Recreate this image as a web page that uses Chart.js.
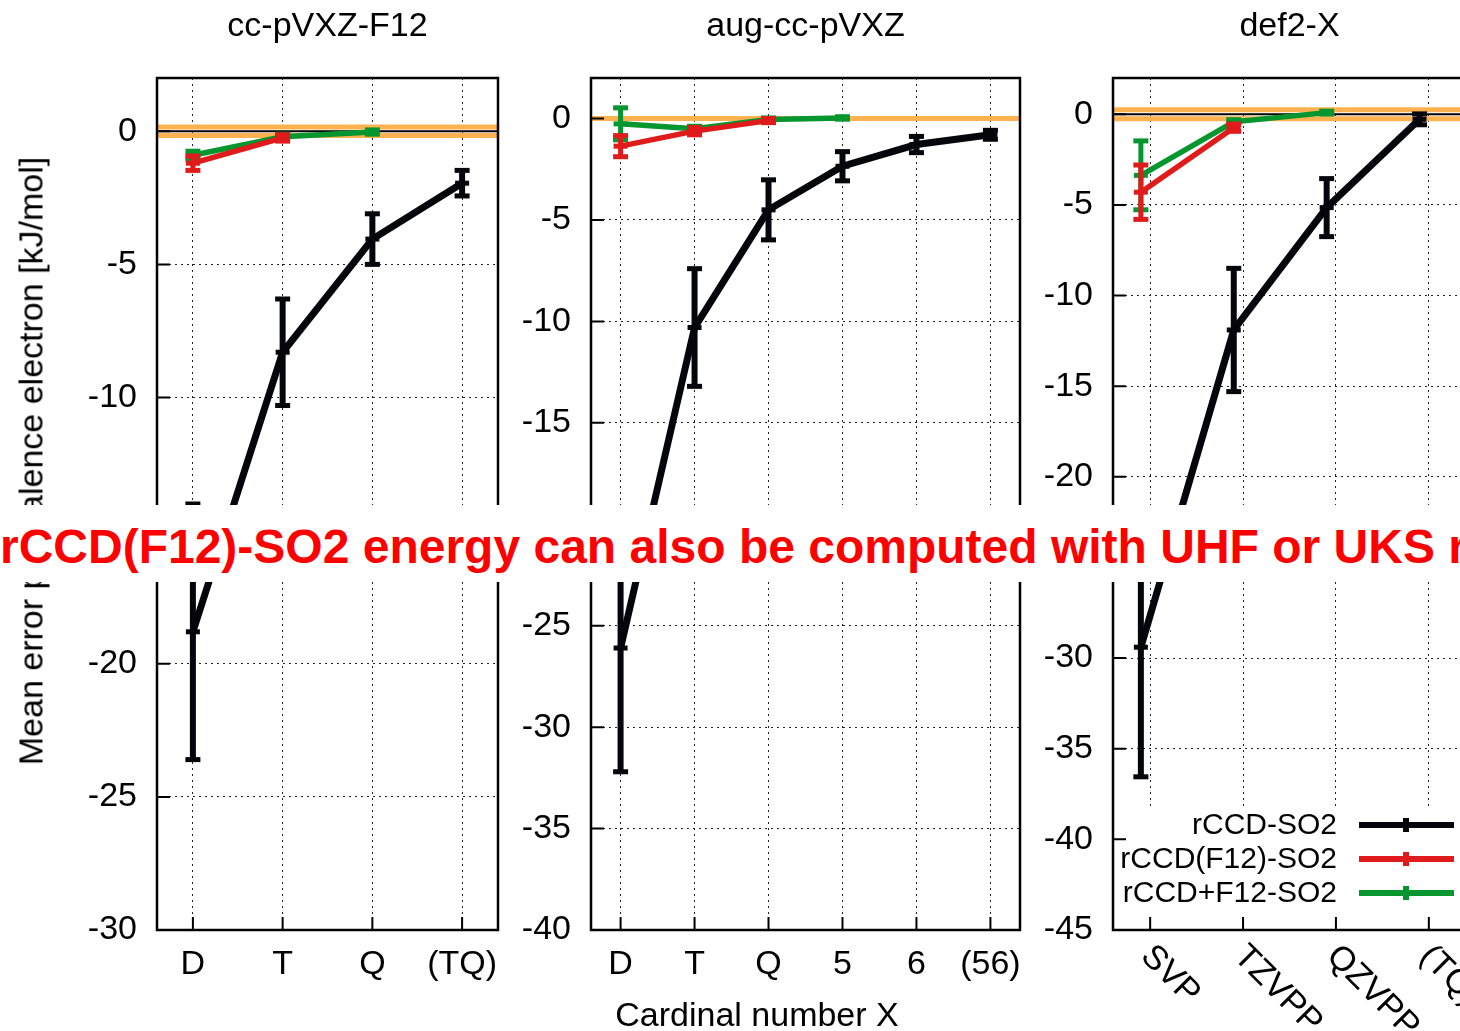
<!DOCTYPE html>
<html>
<head>
<meta charset="utf-8">
<script src="https://cdn.jsdelivr.net/npm/chart.js@4.4.1/dist/chart.umd.min.js"></script>
<style>
  html, body { margin: 0; padding: 0; background: #fff; overflow: hidden; width: 1460px; height: 1031px; }
  canvas { position: absolute; top: 0; }
  .lbl { position: absolute; font-family: 'Liberation Sans', Arial, sans-serif; font-size: 34px; color: #000; white-space: nowrap; }
  #ylabel { left: 31px; top: 461px; transform: translate(-50%, -50%) rotate(-90deg); }
  #xlabel { left: 757px; top: 1014px; transform: translate(-50%, -50%); }
  #banner { position: absolute; left: 0; top: 505px; width: 1460px; height: 77px; background: #fff; color: #ff0000;
            font: bold 48px 'Liberation Sans', Arial, sans-serif; line-height: 77px; padding-top: 3px; box-sizing: border-box;
            white-space: nowrap; overflow: hidden; }
</style>
</head>
<body>
<canvas id="c1" width="520" height="1031" style="left:0px"></canvas>
<canvas id="c2" width="520" height="1031" style="left:520px"></canvas>
<canvas id="c3" width="460" height="1031" style="left:1040px"></canvas>
<div class="lbl" id="ylabel">Mean error per valence electron [kJ/mol]</div>
<div class="lbl" id="xlabel">Cardinal number X</div>
<div id="banner">rCCD(F12)-SO2 energy can also be computed with UHF or UKS r</div>

<script>
// Données des trois panneaux
const seriesNames = ['rCCD-SO2', 'rCCD(F12)-SO2', 'rCCD+F12-SO2'];

// cc-pVXZ-F12
const f12Labels = ['D', 'T', 'Q', '(TQ)'];
const f12Rccd = [-18.8, -8.3, -4.05, -1.95];
const f12RccdErr = [4.8, 2.0, 0.95, 0.48];
const f12RccdF12 = [-1.2, -0.25];
const f12RccdF12Err = [0.27, 0.12];
const f12RccdPlus = [-0.9, -0.21, -0.03];
const f12RccdPlusErr = [0.15, 0.1, 0.08];
const f12Band = [0.16, -0.16];

// aug-cc-pVXZ
const augLabels = ['D', 'T', 'Q', '5', '6', '(56)'];
const augRccd = [-26.1, -10.3, -4.5, -2.35, -1.28, -0.8];
const augRccdErr = [6.1, 2.9, 1.48, 0.72, 0.4, 0.22];
const augRccdF12 = [-1.36, -0.62, -0.1];
const augRccdF12Err = [0.52, 0.18, 0.1];
const augRccdPlus = [-0.26, -0.5, -0.05, 0.03];
const augRccdPlusErr = [0.79, 0.12, 0.08, 0.06];
const augBand = [0];

// def2-X
const defLabels = ['SVP', 'TZVPP', 'QZVPP', '(TQ)'];
const defRccd = [-29.4, -11.9, -5.15, -0.28];
const defRccdErr = [7.15, 3.4, 1.6, 0.3];
const defRccdF12 = [-4.3, -0.74];
const defRccdF12Err = [1.5, 0.2];
const defRccdPlus = [-3.37, -0.42, 0.09];
const defRccdPlusErr = [1.9, 0.12, 0.08];
const defBand = [0.25, -0.25];
const defShift = -0.1;

// Styles
const FONT = "'Liberation Sans', Arial, sans-serif";
const FONT_SIZE = 34;
const ORANGE = '#ffb24f';
const seriesColors = ['#05050c', '#e01b1b', '#06962f'];
const seriesWidths = [7, 5.5, 5.5];

const buildDatasets = (valueSets, errorSets, shift) => valueSets.map((vals, k) => ({
    label: seriesNames[k],
    data: vals.map((v, i) => ({ x: i + shift, y: v })),
    errors: errorSets[k],
    borderColor: seriesColors[k],
    backgroundColor: seriesColors[k],
    borderWidth: seriesWidths[k],
    pointStyle: 'line',
    pointRadius: 7,
    pointBorderWidth: 5,
    pointBorderColor: seriesColors[k],
    tension: 0
}));

const hline = (ctx, a, py, color, width) => {
    ctx.strokeStyle = color;
    ctx.lineWidth = width;
    ctx.beginPath();
    ctx.moveTo(a.left, py);
    ctx.lineTo(a.right, py);
    ctx.stroke();
};

// Plugin : bande orange, barres d'erreur, cadre, graduations, titre, légende
const decor = {
    id: 'decor',
    beforeDatasetsDraw(chart, args, opts) {
        const { ctx, chartArea: a } = chart;
        const y = chart.scales.y;
        ctx.save();
        ctx.beginPath();
        ctx.rect(a.left, a.top, a.right - a.left, a.bottom - a.top);
        ctx.clip();
        hline(ctx, a, y.getPixelForValue(0), '#000', 2);
        opts.band.forEach(v => hline(ctx, a, y.getPixelForValue(v), ORANGE, 5));
        ctx.restore();
    },
    afterDatasetDraw(chart, args) {
        const ds = chart.data.datasets[args.index];
        if (!ds.errors) return;
        const { ctx, chartArea: a } = chart;
        const { x, y } = chart.scales;
        const w = args.index === 0 ? 6 : 5;
        ctx.save();
        ctx.beginPath();
        ctx.rect(a.left, a.top, a.right - a.left, a.bottom - a.top);
        ctx.clip();
        ctx.fillStyle = ds.borderColor;
        ds.data.forEach((p, i) => {
            const px = x.getPixelForValue(p.x);
            const top = y.getPixelForValue(p.y + ds.errors[i]);
            const bot = y.getPixelForValue(p.y - ds.errors[i]);
            ctx.fillRect(px - w / 2, top, w, bot - top);
            ctx.fillRect(px - 7.5, top - 2.5, 15, 5);
            ctx.fillRect(px - 7.5, bot - 2.5, 15, 5);
        });
        ctx.restore();
    },
    afterDraw(chart, args, opts) {
        const { ctx, chartArea: a } = chart;
        const { x, y } = chart.scales;
        ctx.save();

        // légende
        if (opts.legend) {
            ctx.fillStyle = '#fff';
            ctx.fillRect(a.left + 3, a.bottom - 123, a.right - a.left, 121);
            ctx.font = '30px ' + FONT;
            ctx.textAlign = 'right';
            ctx.textBaseline = 'middle';
            chart.data.datasets.forEach((ds, k) => {
                const ly = a.bottom - 105 + k * 34;
                ctx.fillStyle = '#000';
                ctx.fillText(ds.label, a.left + 224, ly + 1);
                ctx.fillStyle = ds.borderColor;
                ctx.fillRect(a.left + 246, ly - 3, 95, 6);
                ctx.fillRect(a.left + 290, ly - 7, 6, 14);
            });
        }

        // graduations intérieures
        ctx.strokeStyle = '#000';
        ctx.lineWidth = 2;
        ctx.beginPath();
        y.ticks.forEach(t => {
            const py = y.getPixelForValue(t.value);
            ctx.moveTo(a.left, py);
            ctx.lineTo(a.left + 13, py);
        });
        x.ticks.forEach(t => {
            const px = x.getPixelForValue(t.value);
            ctx.moveTo(px, a.bottom);
            ctx.lineTo(px, a.bottom - 13);
        });
        ctx.stroke();

        // cadre
        ctx.lineWidth = 2.5;
        ctx.strokeRect(a.left, a.top, a.right - a.left, a.bottom - a.top);

        // titre
        ctx.fillStyle = '#000';
        ctx.font = FONT_SIZE + 'px ' + FONT;
        ctx.textAlign = 'center';
        ctx.textBaseline = 'middle';
        ctx.fillText(opts.title, (a.left + a.right) / 2, 27);

        // étiquettes inclinées
        if (opts.rotate) {
            ctx.textAlign = 'left';
            x.ticks.forEach(t => {
                const px = x.getPixelForValue(t.value);
                ctx.save();
                ctx.translate(px - 4, 951);
                ctx.rotate(Math.PI / 4);
                ctx.fillText(opts.tickLabels[t.value], 0, 0);
                ctx.restore();
            });
        }
        ctx.restore();
    }
};

const makePanel = (id, cfg) => {
    const ctx = document.getElementById(id).getContext('2d');
    return new Chart(ctx, {
        type: 'line',
        data: { datasets: buildDatasets(cfg.values, cfg.errors, cfg.shift || 0) },
        options: {
            responsive: false,
            animation: false,
            events: [],
            layout: { padding: { top: 78, right: cfg.padRight, left: 0, bottom: 0 } },
            plugins: {
                legend: { display: false },
                tooltip: { enabled: false },
                decor: {
                    band: cfg.band,
                    title: cfg.title,
                    legend: !!cfg.legend,
                    rotate: !!cfg.rotate,
                    tickLabels: cfg.labels
                }
            },
            scales: {
                x: {
                    type: 'linear',
                    min: -0.4,
                    max: cfg.labels.length - 1 + 0.4,
                    afterFit: s => { s.height = 101; },
                    border: { display: false, dash: [2, 4] },
                    grid: { color: '#222', lineWidth: 1, drawTicks: false },
                    ticks: {
                        display: !cfg.rotate,
                        stepSize: 1,
                        includeBounds: false,
                        padding: 14,
                        color: '#000',
                        font: { family: FONT, size: FONT_SIZE },
                        maxRotation: 0,
                        autoSkip: false,
                        callback: v => cfg.labels[v]
                    }
                },
                y: {
                    min: cfg.yMin,
                    max: 2,
                    afterFit: s => { s.width = cfg.yWidth; },
                    border: { display: false, dash: [2, 4] },
                    grid: { color: '#222', lineWidth: 1, drawTicks: false },
                    ticks: {
                        stepSize: 5,
                        includeBounds: false,
                        padding: 20,
                        color: '#000',
                        font: { family: FONT, size: FONT_SIZE }
                    }
                }
            }
        },
        plugins: [decor]
    });
};

document.addEventListener('DOMContentLoaded', () => {
    makePanel('c1', {
        title: 'cc-pVXZ-F12', labels: f12Labels, yMin: -30, band: f12Band,
        values: [f12Rccd, f12RccdF12, f12RccdPlus],
        errors: [f12RccdErr, f12RccdF12Err, f12RccdPlusErr],
        yWidth: 157, padRight: 22
    });
    makePanel('c2', {
        title: 'aug-cc-pVXZ', labels: augLabels, yMin: -40, band: augBand,
        values: [augRccd, augRccdF12, augRccdPlus],
        errors: [augRccdErr, augRccdF12Err, augRccdPlusErr],
        yWidth: 71, padRight: 20
    });
    makePanel('c3', {
        title: 'def2-X', labels: defLabels, yMin: -45, band: defBand, shift: defShift,
        values: [defRccd, defRccdF12, defRccdPlus],
        errors: [defRccdErr, defRccdF12Err, defRccdPlusErr],
        yWidth: 73, padRight: 34, legend: true, rotate: true
    });
});
</script>
</body>
</html>
